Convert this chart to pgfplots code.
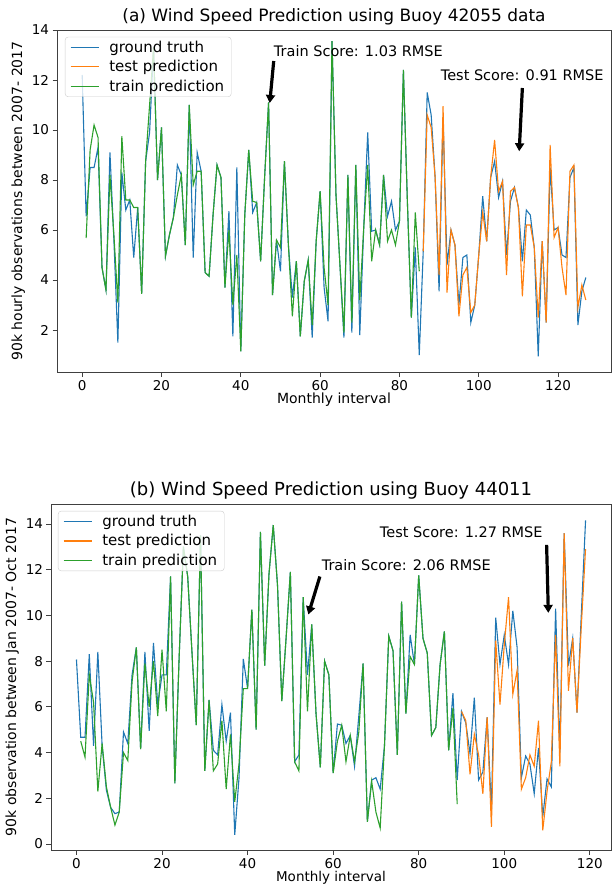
\documentclass[border=0pt]{standalone}
\usepackage{fontspec}
\setmainfont{DejaVu Sans}
\usepackage{pgfplots}
\pgfplotsset{compat=1.18}
\usetikzlibrary{arrows.meta}
\definecolor{mplblue}{HTML}{1F77B4}
\definecolor{mplorange}{HTML}{FF7F0E}
\definecolor{mplgreen}{HTML}{2CA02C}
\pgfplotsset{
  mystyle/.style={
    scale only axis,
    axis line style={black!75, line width=0.8pt},
    tick style={black!75, line width=0.8pt},
    tick align=outside,
    tick pos=left,
    major tick length=4.5pt,
    /pgf/number format/assume math mode=true,
    tick label style={font=\fontsize{13.5}{16}\selectfont},
    label style={font=\fontsize{14}{16}\selectfont},
    xlabel style={inner sep=0.5pt, yshift=1pt},
    title style={font=\fontsize{17}{20}\selectfont, yshift=-5pt},
    legend cell align=left,
    legend style={font=\fontsize{15}{18}\selectfont, draw=black!20, rounded corners=3pt,
      fill=white, fill opacity=0.8, text opacity=1, draw opacity=1,
      anchor=north west, inner xsep=5pt, inner ysep=2pt, row sep=2.5pt, column sep=8pt},
    legend image code/.code={\draw[##1] (0pt,0pt) -- (28pt,0pt);},
    every axis plot/.append style={line width=1.1pt, mark=none},
  }
}
\begin{document}
\begin{tikzpicture}
\useasboundingbox (0pt,0pt) rectangle (611pt,-885pt);
% ---------------- Panel (a) ----------------
\begin{axis}[mystyle,
  at={(57pt,-372pt)}, anchor=south west,
  width=554pt, height=342pt,
  xmin=-6.35, xmax=133.35, ymin=0.32, ymax=14.0,
  xtick={0,20,40,60,80,100,120}, ytick={2,4,6,8,10,12,14},
  title={(a) Wind Speed Prediction using Buoy 42055 data},
  xlabel={Monthly interval},
  ylabel={90k hourly observations between 2007- 2017},
  legend style={at={(0.0144,0.98)}},
]
\addplot[mplblue] table {
0 12.2
1 6.55
2 8.5
3 8.5
4 9.3
5 4.5
6 3.6
7 9.1
8 5.6
9 1.5
10 8.3
11 6.8
12 7.2
13 4.9
14 6.9
15 3.45
16 8.75
17 9.9
18 13.3
19 8.0
20 10.1
21 4.95
22 5.8
23 6.5
24 8.6
25 8.2
26 5.4
27 11.0
28 4.9
29 9.1
30 8.35
31 4.3
32 4.15
33 6.6
34 8.6
35 8.1
36 3.7
37 6.75
38 1.75
39 8.5
40 1.15
41 6.6
42 9.2
43 6.7
44 7.1
45 4.75
46 8.1
47 11.1
48 3.4
49 5.6
50 4.35
51 8.75
52 5.4
53 3.3
54 4.75
55 1.75
56 3.95
57 4.8
58 1.7
59 5.55
60 7.55
61 3.7
62 2.35
63 13.55
64 7.4
65 4.6
66 1.7
67 8.2
68 1.9
69 8.6
70 1.8
71 6.1
72 9.9
73 5.95
74 6.0
75 5.4
76 8.2
77 6.55
78 7.15
79 6.0
80 6.35
81 12.4
82 7.15
83 2.5
84 5.3
85 1.0
86 5.15
87 11.5
88 10.6
89 8.1
90 3.55
91 10.5
92 4.6
93 6.0
94 5.4
95 3.0
96 4.9
97 5.0
98 2.3
99 3.0
100 5.0
101 7.35
102 5.55
103 8.1
104 8.75
105 7.3
106 7.95
107 5.0
108 7.15
109 7.7
110 6.9
111 4.75
112 6.8
113 6.6
114 5.3
115 0.95
116 5.55
117 2.3
118 8.5
119 6.0
120 6.1
121 5.0
122 4.9
123 8.1
124 8.5
125 2.2
126 3.55
127 4.1
};
\addlegendentry{ground truth}
\addplot[mplorange] table {
86 5.15
87 10.6
88 10.1
89 8.1
90 4.2
91 10.95
92 3.5
93 6.0
94 5.4
95 2.55
96 4.2
97 4.5
98 2.7
99 3.0
100 5.0
101 6.7
102 5.55
103 8.1
104 9.6
105 7.55
106 7.95
107 4.2
108 7.55
109 7.7
110 6.9
111 3.35
112 6.2
113 6.2
114 5.3
115 2.5
116 5.55
117 2.3
118 9.4
119 5.7
120 6.1
121 4.5
122 3.4
123 8.35
124 8.6
125 2.9
126 3.8
127 3.2
};
\addlegendentry{test prediction}
\addplot[mplgreen] table {
1 5.68
2 9.2
3 10.2
4 9.7
5 4.5
6 3.6
7 8.2
8 5.8
9 3.1
10 9.75
11 7.2
12 7.2
13 6.9
14 6.9
15 3.45
16 8.75
17 11.0
18 13.3
19 8.0
20 10.1
21 4.95
22 5.8
23 6.5
24 7.4
25 8.2
26 5.4
27 11.0
28 7.8
29 8.35
30 8.35
31 4.3
32 4.15
33 6.6
34 8.6
35 8.1
36 3.7
37 6.0
38 3.0
39 5.0
40 1.15
41 6.6
42 9.2
43 7.15
44 7.1
45 4.75
46 8.1
47 11.1
48 3.4
49 5.6
50 5.3
51 8.75
52 5.4
53 2.55
54 4.75
55 1.75
56 3.95
57 4.8
58 2.2
59 5.55
60 7.55
61 4.5
62 3.0
63 13.55
64 7.4
65 4.6
66 1.9
67 8.2
68 2.3
69 8.6
70 3.2
71 6.1
72 8.6
73 4.75
74 6.0
75 5.4
76 8.2
77 5.55
78 6.0
79 5.4
80 6.35
81 12.4
82 7.15
83 2.5
84 6.7
85 4.35
};
\addlegendentry{train prediction}
\node[anchor=west, inner sep=0pt, font=\fontsize{14.5}{17}\selectfont] at (axis cs:48.3,13.17) {Train Score: 1.03 RMSE};
\draw[-{Triangle[length=8pt,width=9pt]}, line width=3.2pt] (axis cs:48.3,12.76) -- (axis cs:47.3,11.08);
\node[anchor=west, inner sep=0pt, font=\fontsize{14.5}{17}\selectfont] at (axis cs:90.4,12.21) {Test Score: 0.91 RMSE};
\draw[-{Triangle[length=8pt,width=9pt]}, line width=3.2pt] (axis cs:111.0,11.68) -- (axis cs:110.2,9.15);
\end{axis}
% ---------------- Panel (b) ----------------
\begin{axis}[mystyle,
  at={(51pt,-850pt)}, anchor=south west,
  width=560pt, height=346pt,
  xmin=-5.95, xmax=124.95, ymin=-0.26, ymax=14.87,
  xtick={0,20,40,60,80,100,120}, ytick={0,2,4,6,8,10,12,14},
  title={(b) Wind Speed Prediction using Buoy 44011},
  title style={font=\fontsize{18}{21}\selectfont},
  xlabel={Monthly interval},
  xlabel style={font=\fontsize{13.5}{15}\selectfont},
  ylabel={90k observation between Jan 2007- Oct 2017},
  legend style={at={(0.0125,0.98)}},
]
\addplot[mplblue] table {
0 8.07
1 4.67
2 4.67
3 8.3
4 4.3
5 8.4
6 4.3
7 2.35
8 1.6
9 1.33
10 1.4
11 4.9
12 4.4
13 7.4
14 8.6
15 4.15
16 8.4
17 4.95
18 8.8
19 6.1
20 7.4
21 7.4
22 11.7
23 2.65
24 8.15
25 13.0
26 11.7
27 8.4
28 5.2
29 13.5
30 3.2
31 6.3
32 4.1
33 3.9
34 6.1
35 4.5
36 5.75
37 0.4
38 2.9
39 8.1
40 6.8
41 10.25
42 5.0
43 13.65
44 7.8
45 11.8
46 13.95
47 11.3
48 6.25
49 9.0
50 11.9
51 3.6
52 3.9
53 10.8
54 7.4
55 9.6
56 5.7
57 3.35
58 8.0
59 7.4
60 3.1
61 5.25
62 5.2
63 4.4
64 4.75
65 3.4
66 5.6
67 7.9
68 0.97
69 2.8
70 2.9
71 2.4
72 4.3
73 9.1
74 8.45
75 3.9
76 10.6
77 5.7
78 9.15
79 7.85
80 11.75
81 9.0
82 8.35
83 4.75
84 5.1
85 7.85
86 9.3
87 4.1
88 6.6
89 2.8
90 5.8
91 5.3
92 3.95
93 6.4
94 2.8
95 3.15
96 5.55
97 1.5
98 9.9
99 7.85
100 9.15
101 7.85
102 10.2
103 8.6
104 2.9
105 3.85
106 3.5
107 2.2
108 4.2
109 1.2
110 2.85
111 2.5
112 10.3
113 4.0
114 13.6
115 7.8
116 9.0
117 5.75
118 10.0
119 14.15
};
\addlegendentry{ground truth}
\addplot[mplorange] table {
90 5.8
91 5.4
92 3.05
93 4.8
94 3.9
95 2.2
96 5.55
97 0.75
98 8.9
99 6.1
100 8.7
101 10.8
102 6.55
103 7.6
104 2.4
105 2.9
106 3.9
107 3.4
108 5.4
109 0.6
110 2.3
111 3.6
112 9.15
113 3.4
114 13.6
115 6.7
116 9.0
117 5.75
118 9.5
119 12.9
};
\addlegendentry{test prediction}
\addplot[mplgreen] table {
1 4.5
2 3.8
3 7.4
4 6.2
5 2.3
6 4.4
7 2.5
8 1.6
9 0.83
10 1.4
11 4.0
12 3.65
13 7.1
14 8.6
15 4.15
16 7.9
17 6.0
18 8.0
19 5.6
20 8.5
21 5.8
22 11.7
23 2.65
24 8.15
25 13.0
26 11.7
27 8.4
28 5.2
29 13.5
30 3.2
31 6.3
32 3.2
33 3.5
34 5.4
35 2.4
36 4.8
37 1.85
38 3.5
39 6.8
40 6.8
41 10.25
42 5.0
43 13.65
44 7.8
45 11.8
46 13.95
47 11.3
48 6.25
49 9.0
50 11.9
51 3.6
52 3.2
53 10.8
54 5.8
55 9.6
56 5.7
57 3.35
58 8.0
59 7.4
60 3.1
61 4.5
62 5.2
63 3.6
64 4.75
65 3.6
66 4.9
67 7.9
68 0.97
69 2.75
70 1.4
71 0.7
72 4.3
73 9.1
74 8.45
75 3.9
76 10.6
77 5.7
78 8.2
79 7.85
80 11.75
81 9.0
82 8.35
83 4.75
84 5.1
85 7.85
86 9.3
87 4.1
88 5.95
89 1.75
};
\addlegendentry{train prediction}
\node[anchor=west, inner sep=0pt, font=\fontsize{14.5}{17}\selectfont] at (axis cs:70.9,13.65) {Test Score: 1.27 RMSE};
\draw[-{Triangle[length=8pt,width=9pt]}, line width=3.2pt] (axis cs:109.9,13.08) -- (axis cs:110.3,10.11);
\node[anchor=west, inner sep=0pt, font=\fontsize{14.5}{17}\selectfont] at (axis cs:57.3,12.18) {Train Score: 2.06 RMSE};
\draw[-{Triangle[length=8pt,width=9pt]}, line width=3.2pt] (axis cs:56.9,11.7) -- (axis cs:54.2,10.04);
\end{axis}
\end{tikzpicture}
\end{document}
